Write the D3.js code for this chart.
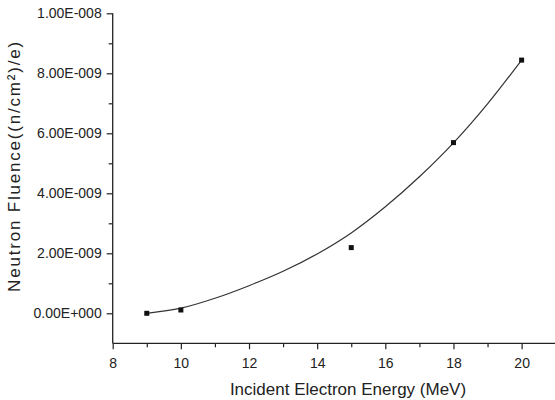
<!DOCTYPE html>
<html>
<head>
<meta charset="utf-8">
<script src="https://cdn.jsdelivr.net/npm/d3@7/dist/d3.min.js"></script>
<style>
  html, body { margin: 0; padding: 0; background: #fff; }
  svg { display: block; font-family: "Liberation Sans", Arial, sans-serif; }
</style>
</head>
<body>
<svg id="chart" width="555" height="400"></svg>
<script>
// Measured fluence per incident electron at each beam energy
const energies = [9, 10, 15, 18, 20];
const fluence = [0.0, 0.11e-9, 2.19e-9, 5.69e-9, 8.44e-9];

// Fitted trend curve
const fitEnergies = [9, 10, 11, 12, 13, 14, 15, 16, 17, 18, 19, 20];
const fitFluence = [0.0, 0.17e-9, 0.50e-9, 0.92e-9, 1.40e-9, 1.98e-9, 2.68e-9,
                    3.55e-9, 4.55e-9, 5.68e-9, 6.98e-9, 8.44e-9];

// Axis ticks
const xMajorTicks = [8, 10, 12, 14, 16, 18, 20];
const xMinorTicks = [9, 11, 13, 15, 17, 19, 21];
const yMajorTicks = [0, 2e-9, 4e-9, 6e-9, 8e-9, 1e-8];
const yMinorTicks = [1e-9, 3e-9, 5e-9, 7e-9, 9e-9];

const svg = d3.select("#chart");
const ink = "#222";

const x = d3.scaleLinear().domain([8, 21]).range([112.7, 555.7]);
const y = d3.scaleLinear().domain([-1e-9, 1e-8]).range([343.3, 13.3]);

// Scientific labels in the style 2.00E-009 / 0.00E+000
function sciLabel(v) {
  if (v === 0) return "0.00E+000";
  const e = Math.floor(Math.log10(Math.abs(v)) + 1e-9);
  const m = v / Math.pow(10, e);
  const sign = e < 0 ? "-" : "+";
  return m.toFixed(2) + "E" + sign + String(Math.abs(e)).padStart(3, "0");
}

function styleAxis(g) {
  g.select(".domain").remove();
  g.selectAll(".tick line").attr("stroke", ink).attr("stroke-width", 1.2);
  g.selectAll(".tick text").attr("fill", ink).attr("font-size", 14)
    .attr("font-family", "Liberation Sans, Arial, sans-serif");
}

// Y axis
svg.append("g").attr("transform", `translate(${x(8)},0)`)
  .call(d3.axisLeft(y).tickValues(yMajorTicks).tickSize(6).tickPadding(5).tickFormat(sciLabel))
  .call(styleAxis);
svg.append("g").attr("transform", `translate(${x(8)},0)`)
  .call(d3.axisLeft(y).tickValues(yMinorTicks).tickSize(4).tickFormat(""))
  .call(styleAxis);

// X axis
svg.append("g").attr("transform", `translate(0,${y(-1e-9)})`)
  .call(d3.axisBottom(x).tickValues(xMajorTicks).tickSize(6).tickPadding(9).tickFormat(d3.format("d")))
  .call(styleAxis);
svg.append("g").attr("transform", `translate(0,${y(-1e-9)})`)
  .call(d3.axisBottom(x).tickValues(xMinorTicks).tickSize(4).tickFormat(""))
  .call(styleAxis);

// Axis spines
svg.append("line")
  .attr("x1", x(8)).attr("x2", x(8)).attr("y1", y(1e-8)).attr("y2", y(-1e-9))
  .attr("stroke", ink).attr("stroke-width", 1.3);
svg.append("line")
  .attr("x1", x(8)).attr("x2", x(21)).attr("y1", y(-1e-9)).attr("y2", y(-1e-9))
  .attr("stroke", ink).attr("stroke-width", 1.3);

// Fit curve
const line = d3.line()
  .x((d, i) => x(fitEnergies[i]))
  .y(d => y(d))
  .curve(d3.curveMonotoneX);
svg.append("path")
  .datum(fitFluence)
  .attr("d", line)
  .attr("fill", "none")
  .attr("stroke", "#333")
  .attr("stroke-width", 1.2);

// Data markers
const s = 5;
svg.append("g").selectAll("rect")
  .data(fluence)
  .join("rect")
  .attr("x", (d, i) => x(energies[i]) - s / 2)
  .attr("y", d => y(d) - s / 2)
  .attr("width", s).attr("height", s)
  .attr("fill", "#111");

// Axis titles
svg.append("text")
  .attr("x", 348).attr("y", 395)
  .attr("text-anchor", "middle")
  .attr("font-size", 17)
  .attr("fill", ink)
  .text("Incident Electron Energy (MeV)");

svg.append("text")
  .attr("transform", "translate(20,166) rotate(-90)")
  .attr("text-anchor", "middle")
  .attr("font-size", 17)
  .attr("letter-spacing", 1.8)
  .attr("fill", ink)
  .text("Neutron Fluence((n/cm²)/e)");
</script>
</body>
</html>
